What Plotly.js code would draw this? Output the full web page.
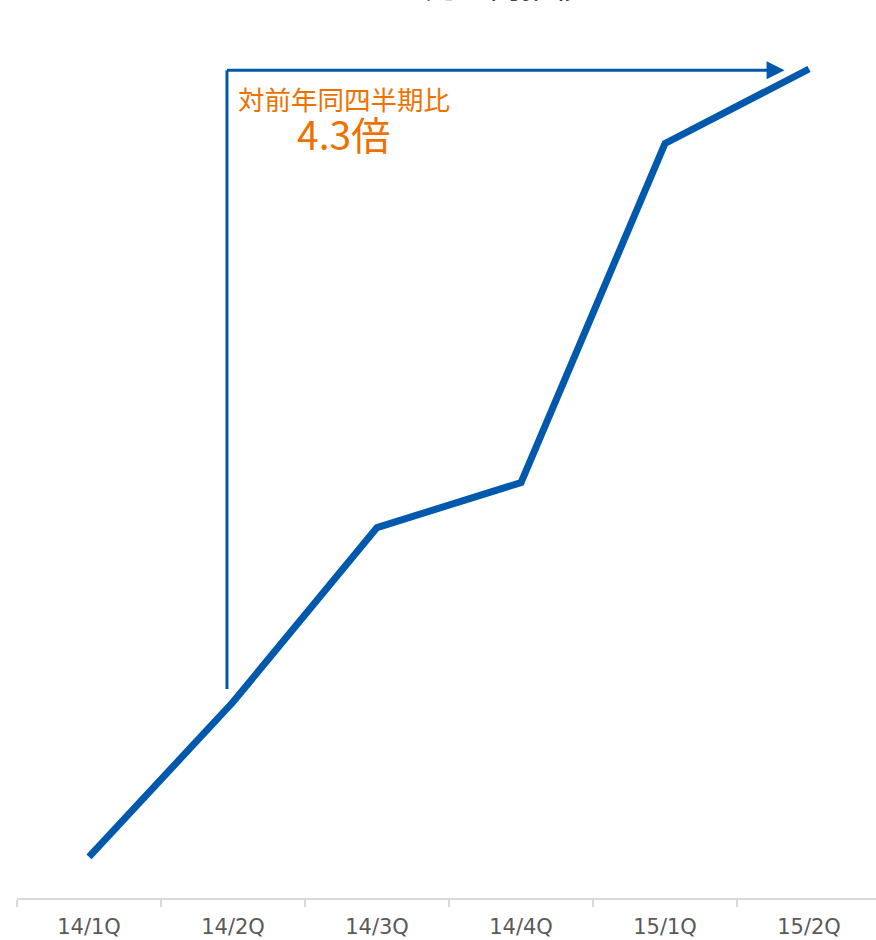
<!DOCTYPE html>
<html>
<head>
<meta charset="utf-8">
<script src="https://cdn.plot.ly/plotly-3.0.1.min.js"></script>
<style>html,body{margin:0;padding:0;background:#fff;}#chart{width:876px;height:940px;}</style>
</head>
<body>
<div id="chart"></div>
<script>
// Data (index, 14/2Q = 100)
const quarters = ["14/1Q", "14/2Q", "14/3Q", "14/4Q", "15/1Q", "15/2Q"];
const sales = [21, 100, 189, 212, 385, 423];
const titleText = "売上高推移";
const noteLabel = "対前年同四半期比";
const noteValue = "4.3倍";

const blue = "#0059AC";
const orange = "#EE7100";

const trace = {
  x: quarters,
  y: sales,
  type: "scatter",
  mode: "lines",
  line: {color: blue, width: 7},
  hoverinfo: "skip"
};

const arrowY = 422.4;
const layout = {
  width: 876,
  height: 940,
  margin: {l: 17, r: 0, t: 20, b: 42},
  paper_bgcolor: "#fff",
  plot_bgcolor: "#fff",
  showlegend: false,
  xaxis: {
    type: "category",
    range: [-0.5, 5.465],
    showgrid: false,
    zeroline: false,
    showline: true,
    linecolor: "#d9d9d9",
    linewidth: 2,
    ticks: "outside",
    tickson: "boundaries",
    ticklen: 7,
    tickwidth: 2,
    tickcolor: "#d9d9d9",
    ticklabelstandoff: 9,
    tickfont: {family: "DejaVu Sans", size: 21, color: "#595959"},
    fixedrange: true
  },
  yaxis: {
    range: [0, 448],
    visible: false,
    showgrid: false,
    zeroline: false,
    fixedrange: true
  },
  shapes: [
    {type: "line", xref: "x", yref: "y", x0: 0.958, x1: 0.958, y0: 106.6, y1: arrowY,
     line: {color: blue, width: 3}}
  ],
  annotations: [
    {xref: "paper", yref: "paper", x: (505 - 17) / 859, y: 1 + 11 / 878, xanchor: "center", yanchor: "bottom",
     text: titleText, showarrow: false,
     font: {family: "Noto Sans CJK JP", size: 32, color: "#404040"}},
    {xref: "x", yref: "y", x: 4.83, y: arrowY, axref: "x", ayref: "y", ax: 0.948, ay: arrowY,
     showarrow: true, arrowhead: 2, arrowsize: 1.2, arrowwidth: 3, arrowcolor: blue, text: ""},
    {xref: "x", yref: "y", x: 1.77, y: 408, text: noteLabel, showarrow: false,
     font: {family: "Noto Sans CJK JP", size: 26.5, color: orange}},
    {xref: "x", yref: "y", x: 1.77, y: 390.5, text: noteValue, showarrow: false,
     font: {family: "Noto Sans CJK JP", size: 39, color: orange}}
  ]
};

Plotly.newPlot("chart", [trace], layout, {displayModeBar: false, staticPlot: true});
</script>
</body>
</html>
